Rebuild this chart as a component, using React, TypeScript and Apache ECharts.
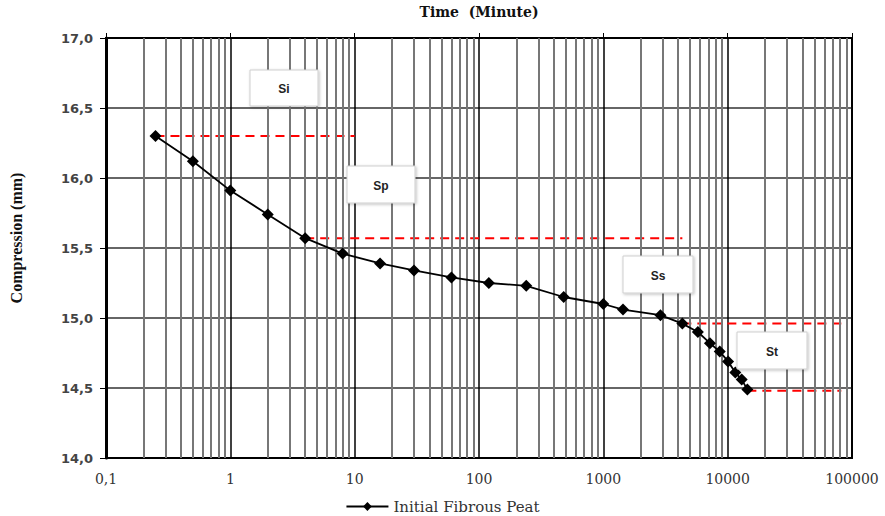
import React, { useEffect, useRef } from "react";
import * as echarts from "echarts";

// Time (minutes) and compression (mm) of the Initial Fibrous Peat curve
const timeMinutes = [0.25, 0.5, 1, 2, 4, 8, 16, 30, 60, 120, 240, 480, 1000, 1440, 2880, 4320, 5760, 7200, 8640, 10080, 11520, 12960, 14400];
const compressionMm = [16.3, 16.12, 15.91, 15.74, 15.57, 15.46, 15.39, 15.34, 15.29, 15.25, 15.23, 15.15, 15.1, 15.06, 15.02, 14.96, 14.9, 14.82, 14.76, 14.69, 14.61, 14.56, 14.49];

// Red dashed stage boundaries: [x, y] end points
const siLine = [[0.25, 16.3], [10, 16.3]];
const spLine = [[4, 15.57], [4320, 15.57]];
const ssLine = [[4320, 14.96], [82000, 14.96]];
const stLine = [[14400, 14.48], [82000, 14.48]];

// Stage labels
const stageLabels = ["Si", "Sp", "Ss", "St"];
const stageBoxes = [
  [250, 70, 68, 36],
  [347, 166, 68, 37],
  [623, 256, 70, 37],
  [737, 332, 70, 37],
];

const yTicks = { min: 14, max: 17, interval: 0.5 };
const xRange = { min: 0.1, max: 100000 };
const minorMultipliers = [2, 3, 4, 5, 6, 7, 8, 9];
const decades = [0.1, 1, 10, 100, 1000, 10000];

const SERIF_WIDE = "DejaVu Serif, serif";
const SERIF = "Liberation Serif, serif";
const SANS = "Liberation Sans, Arial, sans-serif";
const SANS_WIDE = "DejaVu Sans, sans-serif";

export default function App() {
  const ref = useRef<HTMLDivElement>(null);
  useEffect(() => {
    document.body.style.margin = "0";
    const chart = echarts.init(ref.current!, undefined, { renderer: "svg" });
    const minorLines: any[] = [];
    decades.forEach((d) => minorMultipliers.forEach((m) => minorLines.push({ xAxis: +(d * m).toPrecision(6) })));

    const dashed = (name: string, data: number[][]) => ({
      name,
      type: "line",
      data,
      symbol: "none",
      lineStyle: { color: "#ff0000", width: 2, type: [9, 6] },
      z: 4,
      silent: true,
    });

    const graphics: any[] = [];
    stageBoxes.forEach((b, i) => {
      graphics.push({
        type: "rect",
        z: 100,
        x: b[0],
        y: b[1],
        shape: { x: 0, y: 0, width: b[2], height: b[3] },
        style: {
          fill: "#ffffff",
          stroke: "#cfcfcf",
          lineWidth: 1,
          shadowBlur: 3,
          shadowColor: "rgba(0,0,0,0.25)",
          shadowOffsetX: 1,
          shadowOffsetY: 1,
        },
      });
      graphics.push({
        type: "text",
        z: 101,
        x: b[0] + b[2] / 2,
        y: b[1] + b[3] / 2 + 1,
        style: {
          text: stageLabels[i],
          fill: "#222",
          fontFamily: SANS,
          fontWeight: "bold",
          fontSize: 12,
          align: "center",
          verticalAlign: "middle",
        },
      });
    });

    chart.setOption({
      animation: false,
      backgroundColor: "#fff",
      grid: { left: 106, right: 33, top: 38, bottom: 58, show: true, borderColor: "#000", borderWidth: 2, backgroundColor: "transparent" },
      legend: {
        data: ["Initial Fibrous Peat"],
        top: 494,
        left: "center",
        itemWidth: 42,
        itemHeight: 11,
        itemGap: 6,
        textStyle: { fontFamily: SERIF_WIDE, fontSize: 15, color: "#333" },
      },
      xAxis: [
        {
          type: "log",
          logBase: 10,
          min: xRange.min,
          max: xRange.max,
          position: "bottom",
          axisLine: { show: true, lineStyle: { color: "#000", width: 2 } },
          axisTick: { show: false },
          axisLabel: {
            margin: 14,
            fontFamily: SERIF_WIDE,
            fontSize: 14,
            color: "#333",
            formatter: (v: number) => (v < 1 ? "0,1" : String(Math.round(v))),
          },
          splitLine: { show: true, lineStyle: { color: "#000", width: 1.5 } },
        },
        {
          type: "log",
          logBase: 10,
          min: xRange.min,
          max: xRange.max,
          position: "top",
          name: "Time  (Minute)",
          nameLocation: "middle",
          nameGap: 19,
          nameTextStyle: { fontFamily: SERIF_WIDE, fontSize: 14, fontWeight: "bold", color: "#111" },
          axisLine: { show: true, lineStyle: { color: "#000", width: 2 } },
          axisTick: { show: true, length: 5, lineStyle: { color: "#000", width: 1 } },
          axisLabel: { show: false },
          splitLine: { show: false },
        },
      ],
      yAxis: {
        type: "value",
        min: yTicks.min,
        max: yTicks.max,
        interval: yTicks.interval,
        name: "Compression (mm)",
        nameLocation: "middle",
        nameGap: 82,
        nameTextStyle: { fontFamily: SERIF, fontSize: 16, fontWeight: "bold", color: "#111", padding: [0, 0, 0, 20] },
        axisLine: { show: true, lineStyle: { color: "#000", width: 3 } },
        axisTick: { show: true, length: 6, lineStyle: { color: "#000", width: 1 } },
        axisLabel: {
          margin: 13,
          fontFamily: SANS_WIDE,
          fontWeight: "bold",
          fontSize: 13,
          color: "#444",
          formatter: (v: number) => v.toFixed(1).replace(".", ","),
        },
        splitLine: { show: true, lineStyle: { color: "#333", width: 1.5 } },
      },
      series: [
        {
          name: "minor-grid",
          type: "line",
          data: [],
          silent: true,
          z: 1,
          markLine: {
            silent: true,
            symbol: "none",
            label: { show: false },
            lineStyle: { color: "#777", width: 2, type: "solid" },
            data: minorLines,
          },
        },
        dashed("si", siLine),
        dashed("sp", spLine),
        dashed("ss", ssLine),
        dashed("st", stLine),
        {
          name: "Initial Fibrous Peat",
          type: "line",
          data: timeMinutes.map((t, i) => [t, compressionMm[i]]),
          symbol: "diamond",
          symbolSize: 12,
          itemStyle: { color: "#000" },
          lineStyle: { color: "#000", width: 1.8 },
          z: 5,
        },
      ],
      graphic: graphics,
    });
    return () => chart.dispose();
  }, []);
  return <div ref={ref} style={{ width: 885, height: 516 }} />;
}
